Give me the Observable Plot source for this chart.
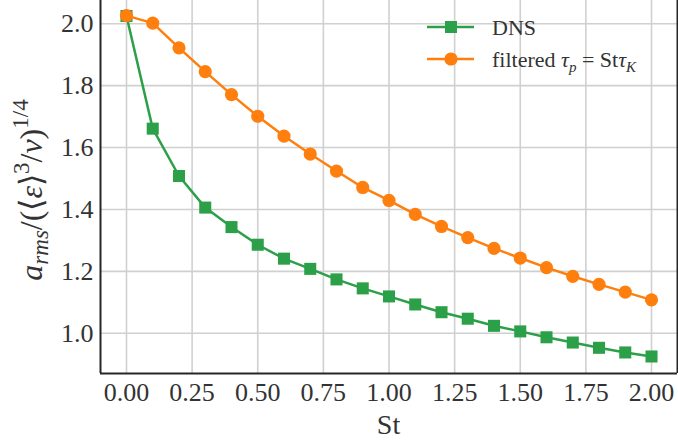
<!DOCTYPE html>
<html><head><meta charset="utf-8">
<script src="https://cdn.jsdelivr.net/npm/d3@7"></script>
<script src="https://cdn.jsdelivr.net/npm/@observablehq/plot@0.6"></script>
<style>
html,body{margin:0;padding:0;background:#fff;}
#chart svg{display:block;}
</style></head><body><div id="chart"></div>
<script>
const st = [0, 0.1, 0.2, 0.3, 0.4, 0.5, 0.6, 0.7, 0.8, 0.9, 1.0, 1.1, 1.2, 1.3, 1.4, 1.5, 1.6, 1.7, 1.8, 1.9, 2.0];
const dns = [2.025, 1.661, 1.508, 1.406, 1.343, 1.286, 1.241, 1.208, 1.174, 1.145, 1.119, 1.093, 1.068, 1.047, 1.024, 1.006, 0.987, 0.970, 0.953, 0.938, 0.925];
const filtered = [2.026, 2.002, 1.922, 1.845, 1.771, 1.701, 1.637, 1.579, 1.524, 1.471, 1.429, 1.384, 1.345, 1.309, 1.274, 1.243, 1.212, 1.184, 1.158, 1.133, 1.108];
const xTicks = [0, 0.25, 0.5, 0.75, 1.0, 1.25, 1.5, 1.75, 2.0];
const yTicks = [1.0, 1.2, 1.4, 1.6, 1.8, 2.0];
const xDomain = [-0.099, 2.099];
const yDomain = [0.870, 2.075];
const seriesNames = ["DNS", "filtered"];
const colors = ["#2ca048", "#ff7f0e"];

const FONT = "Liberation Serif, serif";
const dnsData = st.map((s, i) => ({st: s, v: dns[i]}));
const filtData = st.map((s, i) => ({st: s, v: filtered[i]}));

const gridStyle = {stroke: "#d0d0d0", strokeOpacity: 1, strokeWidth: 1.6};
const spine = {stroke: "#262626", strokeWidth: 2};

const svg = Plot.plot({
  width: 678, height: 442,
  marginLeft: 100, marginRight: 1, marginTop: 0, marginBottom: 69,
  style: {fontFamily: FONT, fontSize: "26px", color: "#333", background: "#fff"},
  x: {domain: xDomain, label: null},
  y: {domain: yDomain, label: null},
  marks: [
    Plot.gridX(xTicks, gridStyle),
    Plot.gridY(yTicks, gridStyle),
    Plot.axisX(xTicks, {tickSize: 0, tickPadding: 9, tickFormat: d => d.toFixed(2), fontSize: 26, fontFamily: FONT, label: null}),
    Plot.axisY(yTicks, {tickSize: 0, tickPadding: 7, tickFormat: d => d.toFixed(1), fontSize: 26, fontFamily: FONT, label: null}),
    Plot.line(dnsData, {x: "st", y: "v", stroke: colors[0], strokeWidth: 2.5}),
    Plot.dot(dnsData, {x: "st", y: "v", symbol: "square", fill: colors[0], r: 6.8}),
    Plot.line(filtData, {x: "st", y: "v", stroke: colors[1], strokeWidth: 2.5}),
    Plot.dot(filtData, {x: "st", y: "v", symbol: "circle", fill: colors[1], r: 6.6}),
    Plot.ruleX(xDomain, spine),
    Plot.ruleY([yDomain[0]], spine)
  ]
});
document.getElementById("chart").appendChild(svg);

const s = d3.select(svg);
// x label
s.append("text").attr("x", 388.5).attr("y", 434).attr("text-anchor", "middle")
  .attr("font-family", FONT).attr("font-size", 28).attr("fill", "#333").text("St");

// y label
const yl = s.append("text").attr("transform", "translate(42,190) rotate(-90)")
  .attr("text-anchor", "middle").attr("font-family", FONT).attr("font-size", 32).attr("fill", "#333");
yl.append("tspan").attr("font-style", "italic").text("a");
yl.append("tspan").attr("font-style", "italic").attr("font-size", 23).attr("dy", 6).text("rms");
yl.append("tspan").attr("dy", -6).text("/(⟨");
yl.append("tspan").attr("font-style", "italic").text("ε");
yl.append("tspan").text("⟩");
yl.append("tspan").attr("font-size", 23).attr("dy", -13).text("3");
yl.append("tspan").attr("dy", 13).text("/");
yl.append("tspan").attr("font-style", "italic").text("ν");
yl.append("tspan").text(")");
yl.append("tspan").attr("font-size", 23).attr("dy", -14).text("1/4");

// legend
const lg = s.append("g").attr("font-family", FONT).attr("font-size", 22).attr("fill", "#333").attr("text-anchor", "start");
const rowsY = [27, 59];
seriesNames.forEach((name, i) => {
  const y = rowsY[i];
  lg.append("line").attr("x1", 427).attr("x2", 474).attr("y1", y).attr("y2", y)
    .attr("stroke", colors[i]).attr("stroke-width", 2.5);
  if (i === 0) {
    lg.append("rect").attr("x", 451 - 6).attr("y", y - 6).attr("width", 12).attr("height", 12).attr("fill", colors[i]);
  } else {
    lg.append("circle").attr("cx", 451).attr("cy", y).attr("r", 6.6).attr("fill", colors[i]);
  }
  const t = lg.append("text").attr("x", 492).attr("y", y + 8).attr("text-anchor", "start");
  if (i === 0) {
    t.text("DNS");
  } else {
    t.append("tspan").text("filtered ");
    t.append("tspan").attr("font-style", "italic").text("τ");
    t.append("tspan").attr("font-style", "italic").attr("font-size", 15).attr("dy", 5).text("p");
    t.append("tspan").attr("dy", -5).text(" = St");
    t.append("tspan").attr("font-style", "italic").text("τ");
    t.append("tspan").attr("font-style", "italic").attr("font-size", 15).attr("dy", 5).text("K");
  }
});
</script>
</body></html>
